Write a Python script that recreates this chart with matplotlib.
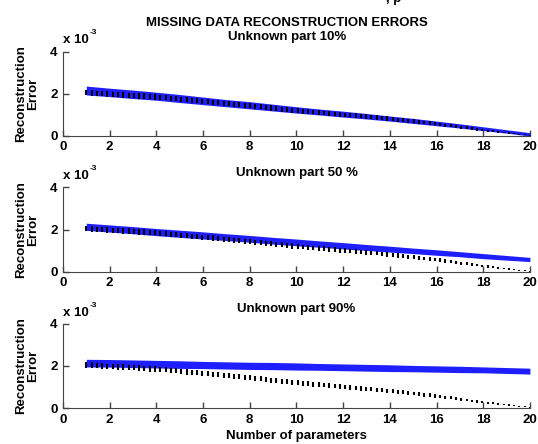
import numpy as np
import matplotlib
matplotlib.use("Agg")
import matplotlib.pyplot as plt

# values are in units of 1e-3 (the axes show "x 10^-3")
titles = ["Unknown part 10%", "Unknown part 50 %", "Unknown part 90%"]
main_title = "MISSING DATA RECONSTRUCTION ERRORS"

# black error bars, sampled densely between 1 and 20 parameters
n_fine = 85
x_fine = np.linspace(1, 20, n_fine)
black_mean = [2.05, 2.03, 2.01, 2.00, 1.98, 1.96, 1.95, 1.94, 1.92, 1.91,
              1.89, 1.88, 1.86, 1.85, 1.83, 1.81, 1.78, 1.76, 1.74, 1.71,
              1.69, 1.67, 1.64, 1.62, 1.60, 1.57, 1.55, 1.53, 1.50, 1.48,
              1.45, 1.43, 1.40, 1.38, 1.35, 1.32, 1.30, 1.27, 1.25, 1.22,
              1.20, 1.17, 1.15, 1.13, 1.11, 1.09, 1.06, 1.04, 1.02, 1.00,
              0.98, 0.96, 0.93, 0.91, 0.89, 0.87, 0.84, 0.82, 0.80, 0.77,
              0.74, 0.72, 0.69, 0.66, 0.63, 0.61, 0.58, 0.55, 0.51, 0.48,
              0.45, 0.41, 0.38, 0.34, 0.31, 0.28, 0.25, 0.22, 0.19, 0.16,
              0.14, 0.11, 0.08, 0.06, 0.03]
black_err = [0.13, 0.13, 0.13, 0.13, 0.13, 0.13, 0.13, 0.13, 0.13, 0.13,
             0.13, 0.13, 0.13, 0.13, 0.12, 0.12, 0.12, 0.12, 0.12, 0.12,
             0.12, 0.12, 0.12, 0.12, 0.12, 0.12, 0.12, 0.12, 0.12, 0.12,
             0.12, 0.12, 0.12, 0.12, 0.12, 0.12, 0.12, 0.12, 0.12, 0.12,
             0.11, 0.11, 0.11, 0.11, 0.11, 0.11, 0.11, 0.11, 0.11, 0.105,
             0.105, 0.105, 0.105, 0.105, 0.105, 0.10, 0.10, 0.10, 0.10, 0.10,
             0.095, 0.095, 0.09, 0.09, 0.09, 0.085, 0.085, 0.08, 0.075, 0.075,
             0.07, 0.07, 0.065, 0.06, 0.06, 0.055, 0.05, 0.045, 0.04, 0.035,
             0.035, 0.03, 0.025, 0.02, 0.02]

# blue bands (centre and half width) at integer parameter counts
x_int = np.arange(1, 21)
blue_center = [
    [2.15, 2.06, 1.97, 1.88, 1.77, 1.66, 1.55, 1.45, 1.34, 1.23,
     1.13, 1.03, 0.93, 0.82, 0.71, 0.59, 0.47, 0.34, 0.21, 0.07],
    [2.13, 2.05, 1.97, 1.88, 1.80, 1.72, 1.64, 1.56, 1.47, 1.39,
     1.31, 1.23, 1.15, 1.07, 0.99, 0.91, 0.83, 0.74, 0.66, 0.58],
    [2.13, 2.12, 2.10, 2.08, 2.06, 2.04, 2.02, 2.00, 1.99, 1.97,
     1.95, 1.93, 1.91, 1.89, 1.87, 1.85, 1.83, 1.81, 1.78, 1.75],
]
blue_half = [
    [0.21, 0.20, 0.20, 0.19, 0.19, 0.18, 0.17, 0.17, 0.16, 0.15,
     0.14, 0.14, 0.13, 0.12, 0.12, 0.11, 0.10, 0.09, 0.08, 0.08],
    [0.17, 0.17, 0.17, 0.17, 0.17, 0.17, 0.16, 0.16, 0.16, 0.16,
     0.15, 0.15, 0.14, 0.14, 0.13, 0.13, 0.12, 0.12, 0.11, 0.10],
    [0.18, 0.18, 0.18, 0.18, 0.18, 0.17, 0.17, 0.17, 0.17, 0.17,
     0.16, 0.16, 0.16, 0.16, 0.15, 0.15, 0.15, 0.14, 0.14, 0.14],
]

plt.rcParams['font.family'] = ['Liberation Sans', 'DejaVu Sans']
plt.rcParams['font.size'] = 9.5
plt.rcParams['font.weight'] = 'bold'
plt.rcParams['axes.labelweight'] = 'bold'
plt.rcParams['axes.titleweight'] = 'bold'

fig = plt.figure(figsize=(5.38, 4.44), dpi=100)
bottoms = [0.694, 0.388, 0.081]
blue = '#1e1eff'

bm = np.array(black_mean)
be = np.array(black_err)

for i in range(3):
    ax = fig.add_axes([0.117, bottoms[i], 0.868, 0.19])
    c = np.array(blue_center[i])
    h = np.array(blue_half[i])
    ax.fill_between(x_int, c - h, c + h, color=blue, lw=0, zorder=2)
    ax.vlines(x_fine, bm - be, bm + be, color='black', lw=1.5, zorder=3)

    ax.set_xlim(0, 20)
    ax.set_ylim(0, 4)
    ax.set_xticks(range(0, 21, 2))
    ax.set_yticks([0, 2, 4])
    ax.spines['top'].set_visible(False)
    ax.spines['right'].set_visible(False)
    for s in ['left', 'bottom']:
        ax.spines[s].set_color('#444444')
    ax.tick_params(direction='in', length=4, width=1, color='#444444', pad=4)

    ax.set_ylabel("Reconstruction\nError", linespacing=1.05)
    ax.yaxis.set_label_coords(-0.051, 0.5)

    if i == 0:
        ax.set_title(main_title + "\n" + titles[i], x=0.48, pad=8.6,
                     linespacing=1.12, fontsize=9.5)
    else:
        ax.set_title(titles[i], pad=8.4, fontsize=9.5)

    ax.annotate("x 10", xy=(0, 1), xycoords='axes fraction',
                xytext=(0, 5.8), textcoords='offset points',
                ha='left', va='baseline')
    ax.annotate("-3", xy=(0, 1), xycoords='axes fraction',
                xytext=(19, 12.3), textcoords='offset points',
                ha='left', va='baseline', fontsize=6)

fig.axes[2].set_xlabel("Number of parameters", labelpad=3)

# the line above the main title is cut off by the figure edge
fig.text(386 / 538, 1 - 2 / 444, ", p", ha='left', va='baseline')

fig.savefig("out.png", dpi=100)
